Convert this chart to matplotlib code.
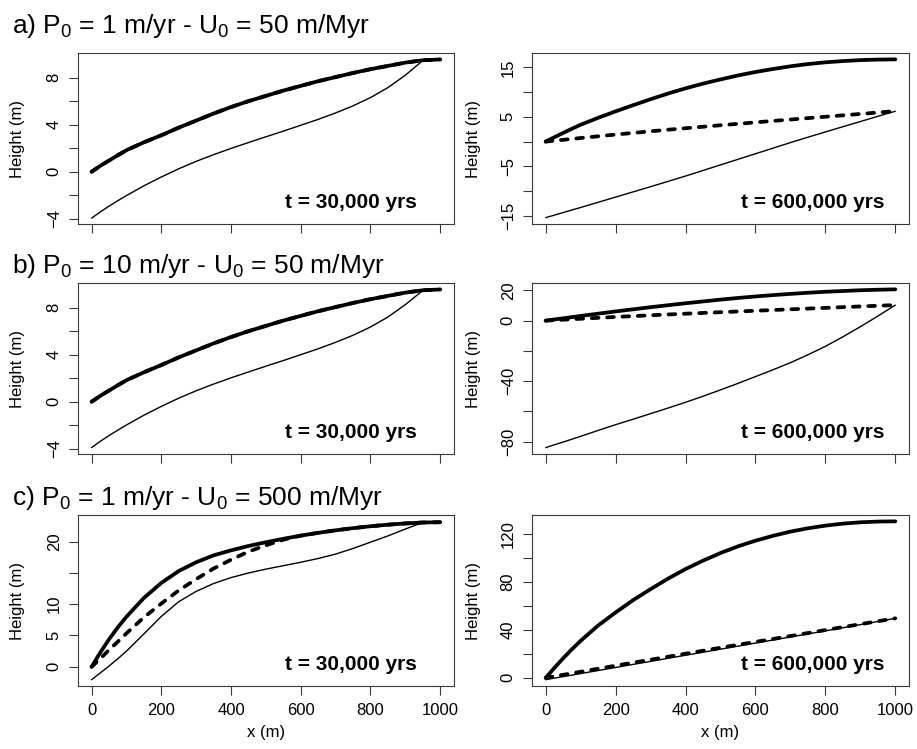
import matplotlib
matplotlib.use("Agg")
import matplotlib.pyplot as plt

plt.rcParams['font.family'] = ['Liberation Sans', 'DejaVu Sans']
plt.rcParams['mathtext.default'] = 'regular'

# ---------------- data ----------------
X = [0, 25, 50, 75, 100, 150, 200, 250, 300, 350, 400, 450, 500, 550, 600,
     650, 700, 750, 800, 850, 900, 950, 1000]

# a) P0 = 1 m/yr - U0 = 50 m/Myr, t = 30,000 yrs
a30_thick = [0, 0.5, 0.95, 1.4, 1.83, 2.5, 3.1, 3.75, 4.35, 4.95, 5.5, 6.0, 6.45,
             6.9, 7.3, 7.7, 8.05, 8.4, 8.72, 9.0, 9.28, 9.48, 9.55]
a30_dash = [0, 0.5, 0.95, 1.4, 1.83, 2.5, 3.1, 3.75, 4.35, 4.95, 5.5, 6.0, 6.45,
            6.9, 7.3, 7.7, 8.05, 8.4, 8.72, 9.0, 9.28, 9.48, 9.55]
a30_thin = [-3.95, -3.42, -2.93, -2.47, -2.03, -1.2, -0.45, 0.25, 0.88, 1.45, 1.98,
            2.48, 2.97, 3.45, 3.95, 4.45, 5.0, 5.6, 6.3, 7.15, 8.2, 9.45, 9.55]

# a) t = 600,000 yrs
a600_thick = [0, 0.9, 1.75, 2.6, 3.4, 4.8, 6.1, 7.35, 8.55, 9.7, 10.75, 11.7, 12.55,
              13.35, 14.05, 14.65, 15.2, 15.65, 16.0, 16.25, 16.45, 16.55, 16.6]
a600_dash = [0, 0.18, 0.36, 0.54, 0.72, 1.07, 1.42, 1.75, 2.08, 2.4, 2.7, 3.0, 3.3,
             3.59, 3.88, 4.17, 4.45, 4.74, 5.02, 5.3, 5.58, 5.87, 6.15]
a600_thin = [-15.35, -14.84, -14.33, -13.8, -13.3, -12.25, -11.2, -10.15, -9.1,
             -8.03, -6.95, -5.83, -4.7, -3.58, -2.45, -1.33, -0.2, 0.88, 1.95,
             3.0, 4.05, 5.1, 6.13]

# b) P0 = 10 m/yr - U0 = 50 m/Myr, t = 30,000 yrs
b30_thick = [0, 0.5, 0.95, 1.4, 1.83, 2.5, 3.12, 3.77, 4.37, 4.96, 5.5, 6.0, 6.45,
             6.9, 7.3, 7.7, 8.05, 8.4, 8.72, 9.0, 9.28, 9.48, 9.55]
b30_dash = [0, 0.5, 0.95, 1.4, 1.83, 2.5, 3.12, 3.77, 4.37, 4.96, 5.5, 6.0, 6.45,
            6.9, 7.3, 7.7, 8.05, 8.4, 8.72, 9.0, 9.28, 9.48, 9.55]
b30_thin = [-3.9, -3.37, -2.88, -2.42, -1.98, -1.15, -0.4, 0.3, 0.93, 1.5, 2.03,
            2.53, 3.02, 3.5, 4.0, 4.5, 5.05, 5.65, 6.35, 7.2, 8.25, 9.45, 9.55]

# b) t = 600,000 yrs
b600_thick = [0, 0.8, 1.55, 2.35, 3.1, 4.6, 6.1, 7.5, 8.9, 10.2, 11.5, 12.7, 13.9,
              15.0, 16.0, 16.9, 17.7, 18.45, 19.1, 19.6, 20.1, 20.45, 20.7]
b600_dash = [0, 0.32, 0.63, 0.94, 1.25, 1.85, 2.45, 3.0, 3.55, 4.08, 4.6, 5.1, 5.6,
             6.08, 6.55, 7.03, 7.5, 7.98, 8.45, 8.93, 9.4, 9.85, 10.3]
b600_thin = [-84, -82.1, -80.3, -78.4, -76.5, -72.6, -68.8, -65.2, -61.5, -57.8,
             -54, -50, -45.8, -41.5, -37, -32.5, -27.8, -22.6, -17, -10.7, -4,
             3.0, 10.3]

# c) P0 = 1 m/yr - U0 = 500 m/Myr, t = 30,000 yrs
c30_thick = [0, 2.3, 4.4, 6.3, 8.0, 11.0, 13.4, 15.3, 16.7, 17.8, 18.6, 19.3, 19.9,
             20.45, 20.95, 21.4, 21.8, 22.15, 22.45, 22.7, 22.9, 23.05, 23.1]
c30_dash = [0, 1.3, 2.7, 4.0, 5.35, 7.9, 10.1, 12.2, 14.0, 15.7, 17.1, 18.4, 19.4,
            20.3, 20.95, 21.4, 21.8, 22.15, 22.45, 22.7, 22.9, 23.05, 23.1]
c30_thin = [-2.06, -0.97, 0.12, 1.28, 2.5, 5.25, 8.05, 10.4, 12.05, 13.3, 14.25,
            14.98, 15.6, 16.15, 16.7, 17.3, 18.0, 18.9, 19.9, 20.9, 22.0, 23.05, 23.1]

# c) t = 600,000 yrs
c600_thick = [0, 8.4, 16.4, 23.9, 31.0, 43.8, 54.7, 65.0, 74.2, 83.0, 91.0, 98.0,
              104.4, 110.0, 114.7, 118.8, 122.3, 125.1, 127.3, 129.0, 130.1,
              130.7, 130.9]
c600_dash = [0, 1.3, 2.55, 3.8, 5.1, 7.65, 10.2, 12.7, 15.2, 17.7, 20.2, 22.7, 25.2,
             27.65, 30.1, 32.55, 35.0, 37.5, 40.0, 42.45, 44.9, 47.35, 49.8]
c600_thin = [-1.5, -0.2, 1.05, 2.3, 3.6, 6.15, 8.7, 11.25, 13.8, 16.35, 18.9, 21.45,
             24.0, 26.55, 29.1, 31.65, 34.2, 36.75, 39.3, 41.9, 44.5, 47.15, 49.8]

titles = ["a) P$_0$ = 1 m/yr - U$_0$ = 50 m/Myr",
          "b) P$_0$ = 10 m/yr - U$_0$ = 50 m/Myr",
          "c) P$_0$ = 1 m/yr - U$_0$ = 500 m/Myr"]
time_labels = ["t = 30,000 yrs", "t = 600,000 yrs"]
x_ticks = [0, 200, 400, 600, 800, 1000]

panels = [
    [(a30_thick, a30_dash, a30_thin), (a600_thick, a600_dash, a600_thin)],
    [(b30_thick, b30_dash, b30_thin), (b600_thick, b600_dash, b600_thin)],
    [(c30_thick, c30_dash, c30_thin), (c600_thick, c600_dash, c600_thin)],
]
yticks = [
    [([-4, -2, 0, 2, 4, 6, 8], [-4, 0, 4, 8]),
     ([-15, -10, -5, 0, 5, 10, 15], [-15, -5, 5, 15])],
    [([-4, -2, 0, 2, 4, 6, 8], [-4, 0, 4, 8]),
     ([-80, -60, -40, -20, 0, 20], [-80, -40, 0, 20])],
    [([0, 5, 10, 15, 20], [0, 5, 10, 20]),
     ([0, 20, 40, 60, 80, 100, 120], [0, 40, 80, 120])],
]
ylims = [[(-4.45, 10.1), (-16.63, 17.88)],
         [(-4.45, 10.1), (-88.2, 24.9)],
         [(-3.07, 24.25), (-6.8, 136.2)]]

# ---------------- layout ----------------
W, H = 917, 749
fig = plt.figure(figsize=(W / 100, H / 100), dpi=100)

col_left = [77.7, 531.7]
col_width = [376.3, 377.6]
ylab_x = [-0.141, -0.133]
row_top = [53, 283, 515]
row_h = 171
title_base = [33.3, 273.3, 505]
frame_col = '#3a3a3a'

for r in range(3):
    fig.text(11.5 / W, 1 - title_base[r] / H, titles[r], fontsize=19,
             ha='left', va='baseline')
    for c in range(2):
        ax = fig.add_axes([col_left[c] / W, 1 - (row_top[r] + row_h) / H,
                           col_width[c] / W, row_h / H])
        thick, dash, thin = panels[r][c]
        ax.plot(X, thick, color='black', lw=2.7, solid_capstyle='round',
                solid_joinstyle='round')
        ax.plot(X, dash, color='black', lw=2.7, linestyle=(0, (1.8, 2.3)),
                dash_capstyle='round', dash_joinstyle='round')
        ax.plot(X, thin, color='black', lw=1.0, solid_capstyle='round')
        ax.set_xlim(-40, 1040)
        ax.set_ylim(*ylims[r][c])
        ticks, labeled = yticks[r][c]
        ax.set_yticks(ticks)
        ax.set_yticklabels([(str(t).replace('-', '\u2212') if t in labeled else '')
                            for t in ticks], rotation=90, va='center')
        ax.set_xticks(x_ticks)
        if r == 2:
            ax.set_xticklabels([str(t) for t in x_ticks])
            ax.set_xlabel("x (m)", fontsize=12)
            ax.xaxis.set_label_coords(0.5, -0.228)
        else:
            ax.set_xticklabels([])
        ax.set_ylabel("Height (m)", fontsize=12)
        ax.yaxis.set_label_coords(ylab_x[c], 0.5)
        ax.tick_params(axis='both', direction='out', length=6.5, width=0.8,
                       color=frame_col, labelsize=12)
        ax.tick_params(axis='y', pad=5)
        ax.tick_params(axis='x', pad=6)
        for s in ax.spines.values():
            s.set_color(frame_col)
            s.set_linewidth(0.8)
        tx = 0.901 if c == 0 else 0.933
        ax.text(tx, 0.092, time_labels[c], transform=ax.transAxes,
                ha='right', va='baseline', fontsize=15, fontweight='bold')

fig.savefig("out.png", dpi=100)
